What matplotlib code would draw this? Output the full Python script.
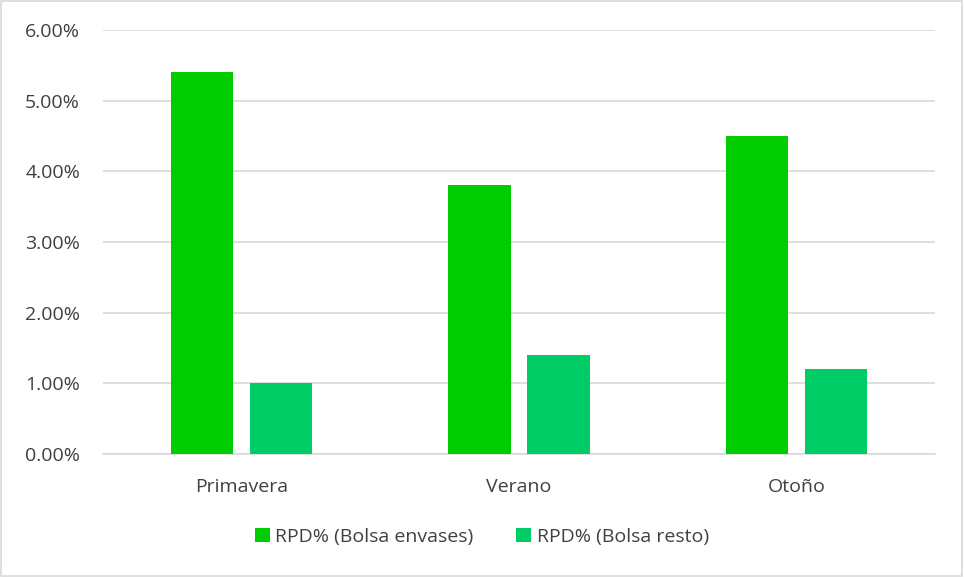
import matplotlib
matplotlib.use("Agg")
import matplotlib.pyplot as plt
import numpy as np
from matplotlib.ticker import FuncFormatter
from matplotlib.patches import Rectangle

categories = ["Primavera", "Verano", "Otoño"]
envases = [5.4, 3.8, 4.5]
resto = [1.0, 1.4, 1.2]
series_names = ["RPD% (Bolsa envases)", "RPD% (Bolsa resto)"]
colors = ["#00CC00", "#00CC66"]

plt.rcParams['font.family'] = ['Open Sans', 'DejaVu Sans']

fig = plt.figure(figsize=(9.64, 5.77), dpi=100)
ax = fig.add_axes([103/964, 1-454/577, (935-103)/964, (454-30)/577])

x = np.arange(len(categories))
w = 0.224
off = 0.1425
ax.bar(x - off, envases, width=w, color=colors[0], label=series_names[0], zorder=3)
ax.bar(x + off, resto, width=w, color=colors[1], label=series_names[1], zorder=3)

ax.set_xlim(-0.5, 2.5)
ax.set_ylim(0, 6)
ax.set_yticks(np.arange(0, 7, 1))
ax.yaxis.set_major_formatter(FuncFormatter(lambda v, p: f"{v:.2f}%"))
ax.set_xticks(x)
ax.set_xticklabels(categories)
ax.grid(axis='y', color='#D9D9D9', linewidth=1.2, zorder=0)
for s in ['top', 'right', 'left']:
    ax.spines[s].set_visible(False)
ax.spines['bottom'].set_color('#D9D9D9')
ax.spines['bottom'].set_linewidth(1.2)
ax.tick_params(axis='both', length=0, labelsize=14, colors='#404040')
ax.tick_params(axis='y', pad=16.5)
ax.tick_params(axis='x', pad=17)

leg = fig.legend(loc='center', bbox_to_anchor=(0.5, 1-537/577), ncol=2, frameon=False,
                 fontsize=14, handlelength=0.75, handleheight=0.75, columnspacing=2.2,
                 handletextpad=0.3)
for t in leg.get_texts():
    t.set_color('#404040')

fig.patches.append(Rectangle((0.001, 0.001), 0.997, 0.997, transform=fig.transFigure,
                             fill=False, edgecolor='#D9D9D9', linewidth=1.2))

fig.savefig("out.png", dpi=100, facecolor='white')
